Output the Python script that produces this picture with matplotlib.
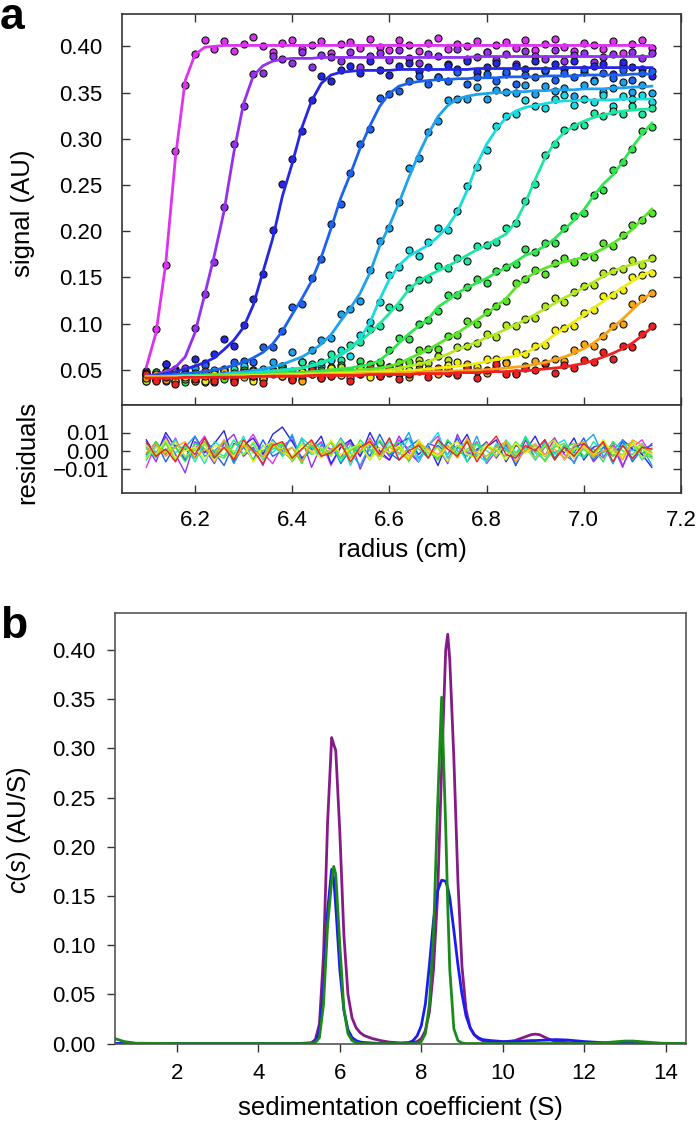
import numpy as np
import matplotlib
matplotlib.use("Agg")
import matplotlib.pyplot as plt

plt.rcParams['font.family'] = ['Liberation Sans', 'DejaVu Sans']
plt.rcParams['mathtext.fontset'] = 'custom'
plt.rcParams['mathtext.it'] = 'Liberation Sans:italic'
plt.rcParams['mathtext.rm'] = 'Liberation Sans'

# ---------------- panel a data ----------------
radius = [6.10, 6.12, 6.14, 6.16, 6.18, 6.20, 6.22, 6.24, 6.26, 6.28,
          6.30, 6.32, 6.34, 6.36, 6.38, 6.40, 6.42, 6.44, 6.46, 6.48,
          6.50, 6.52, 6.54, 6.56, 6.58, 6.60, 6.62, 6.64, 6.66, 6.68,
          6.70, 6.72, 6.74, 6.76, 6.78, 6.80, 6.82, 6.84, 6.86, 6.88,
          6.90, 6.92, 6.94, 6.96, 6.98, 7.00, 7.02, 7.04, 7.06, 7.08,
          7.10, 7.12, 7.14]

# fitted signal of each scan, in units of 0.001 AU
fit_magenta = [53, 90, 165, 280, 363, 391, 399, 400, 401, 401] + [401] * 43
fit_violet = [43, 45, 48, 53, 64, 90, 131, 174, 222, 285,
              338, 368, 379, 384, 386, 387, 387, 387, 388, 388,
              388, 388, 388, 388, 388, 388, 388, 388, 388, 388,
              388, 388, 388, 388, 389, 389, 389, 389, 389, 389,
              389, 389, 389, 389, 389, 389, 389, 389, 389, 389,
              389, 389, 389]
fit_blue = [43, 44, 46, 48, 51, 54, 58, 63, 72, 82,
            96, 120, 156, 192, 238, 273, 312, 341, 360, 369,
            372, 373, 374, 374, 374, 374, 375, 375, 375, 375,
            375, 375, 375, 375, 376, 376, 376, 376, 376, 376,
            376, 376, 376, 377, 377, 377, 377, 377, 377, 377,
            377, 377, 377]
fit_royal = [43, 43, 44, 45, 46, 47, 48, 50, 52, 55,
             58, 63, 69, 78, 92, 110, 127, 146, 172, 203,
             236, 262, 290, 314, 335, 349, 357, 360, 362, 363,
             364, 364, 365, 365, 366, 366, 366, 367, 367, 367,
             367, 368, 368, 368, 368, 369, 369, 369, 369, 369,
             370, 370, 370]
fit_azure = [43, 43, 43, 43, 44, 44, 45, 45, 46, 47,
             48, 49, 51, 53, 56, 60, 64, 70, 78, 88,
             103, 117, 133, 155, 184, 206, 231, 258, 283, 305,
             324, 336, 343, 346, 348, 349, 350, 350, 351, 351,
             352, 352, 353, 353, 353, 354, 354, 354, 355, 355,
             356, 356, 357]
fit_cyan = [43, 43, 43, 43, 44, 44, 44, 45, 45, 46,
            46, 47, 48, 49, 50, 51, 52, 54, 57, 61,
            66, 73, 84, 101, 126, 148, 163, 173, 179, 185,
            194, 205, 221, 244, 272, 294, 310, 323, 330, 334,
            336, 338, 340, 341, 341, 342, 342, 342, 342, 343,
            343, 343, 343]
fit_spring = [43, 43, 43, 43, 43, 44, 44, 44, 45, 45,
              46, 46, 47, 48, 49, 50, 52, 55, 58, 62,
              67, 74, 81, 90, 100, 111, 123, 137, 146, 152,
              157, 162, 168, 174, 180, 185, 191, 197, 210, 231,
              256, 279, 296, 307, 314, 319, 323, 326, 328, 330,
              331, 332, 332]
fit_green = [43, 43, 43, 43, 43, 43, 44, 44, 44, 44,
             45, 45, 45, 46, 46, 47, 47, 48, 49, 50,
             51, 52, 54, 56, 60, 69, 79, 89, 97, 105,
             118, 125, 133, 139, 144, 149, 155, 161, 167, 174,
             178, 184, 192, 202, 212, 223, 238, 251, 261, 275,
             291, 305, 317]
fit_lime = [43, 43, 43, 43, 43, 43, 43, 44, 44, 44,
            44, 45, 45, 45, 46, 46, 46, 47, 47, 48,
            48, 49, 50, 51, 52, 54, 57, 62, 67, 72,
            78, 84, 90, 97, 104, 111, 119, 127, 139, 149,
            155, 160, 164, 167, 169, 172, 176, 181, 187, 194,
            202, 213, 224]
fit_chartreuse = [42, 42, 42, 43, 43, 43, 43, 43, 43, 44,
                  44, 44, 44, 45, 45, 45, 45, 46, 46, 46,
                  47, 47, 48, 48, 49, 50, 52, 54, 56, 59,
                  63, 67, 72, 76, 80, 85, 89, 94, 99, 104,
                  110, 116, 122, 128, 133, 139, 145, 151, 157, 161,
                  164, 167, 169]
fit_yellow = [42, 42, 42, 42, 42, 43, 43, 43, 43, 43,
              43, 44, 44, 44, 44, 45, 45, 45, 45, 46,
              46, 46, 47, 47, 47, 48, 48, 49, 50, 51,
              52, 53, 54, 55, 57, 59, 61, 63, 65, 68,
              74, 80, 88, 95, 102, 109, 117, 124, 132, 139,
              146, 152, 157]
fit_orange = [42, 42, 42, 42, 42, 42, 42, 43, 43, 43,
              43, 43, 43, 44, 44, 44, 44, 44, 45, 45,
              45, 45, 46, 46, 46, 46, 47, 47, 47, 48,
              48, 48, 49, 49, 50, 50, 51, 52, 53, 54,
              56, 58, 61, 64, 68, 73, 79, 87, 96, 105,
              115, 125, 134]
fit_red = [41, 41, 41, 41, 42, 42, 42, 42, 42, 42,
           42, 43, 43, 43, 43, 43, 43, 44, 44, 44,
           44, 44, 44, 45, 45, 45, 45, 45, 46, 46,
           46, 46, 47, 47, 47, 48, 48, 48, 49, 49,
           50, 51, 52, 53, 55, 57, 60, 64, 68, 73,
           79, 87, 96]

# residuals (data - fit) of each scan, in units of 0.001 AU
res_magenta = [-9, 4, -2, 7, -5, 1, 8, -3, 5, -6, 2, 9, -1, -7, 3, 6, -4, 0, 5, -8,
               2, 4, -3, 7, -2, -5, 6, 1, -6, 3, 8, -4, 2, -1, 5, -7, 0, 4, -3, 6,
               -5, 2, 7, -2, -6, 3, 1, -4, 5, -8, 2, 6, -3]
res_violet = [3, -6, 8, -2, -12, 5, 1, -7, 4, 9, -3, 2, -8, 6, 0, -5, 7, -9, 3, 1,
              -4, 6, -10, 2, 5, -3, 8, -1, -6, 4, 2, -7, 9, -2, 0, 5, -4, 3, -8, 6,
              1, -3, 7, -5, 2, 4, -6, 0, 3, -9, 5, -2, 4]
res_blue = [6, -3, 10, 2, -5, 8, -1, 4, 11, -6, 3, 7, -2, 9, 13, 5, -4, 1, 8, -7,
            2, 6, -3, 10, 0, -5, 4, 7, -2, 3, -8, 5, 1, 9, -4, 2, 6, -6, 3, 0,
            8, -3, 5, -1, 7, -5, 2, 4, -7, 6, 1, -2, -9]
res_royal = [-2, 5, -6, 3, 1, -4, 7, -1, -8, 4, 2, -5, 6, -3, 0, 8, -6, 3, -2, 5,
             -7, 1, 4, -3, 9, -1, -5, 2, 6, -4, 3, -2, 7, -6, 1, 4, -3, 5, -8, 2,
             0, 6, -4, 3, -1, 7, -5, 2, -3, 5, -6, 1, 3]
res_azure = [4, -1, 6, -5, 2, 8, -3, 0, 5, -7, 3, 1, -4, 6, -2, 9, -6, 2, 4, -3,
             7, -1, -8, 3, 5, -2, 1, 10, -4, 2, -5, 6, 0, -3, 8, -6, 3, 1, -2, 7,
             -4, 5, -1, 2, -7, 4, 9, -3, 0, 6, -5, 2, -8]
res_cyan = [-5, 3, 0, 6, -4, 2, -7, 5, 1, -2, 8, -6, 3, -1, 4, -5, 7, 2, -3, 0,
            6, -8, 4, 1, -3, 5, -2, 7, -6, 3, 10, -4, 1, 5, -2, -6, 4, 2, -3, 8,
            -1, -5, 3, 6, -4, 1, -2, 5, -7, 3, 0, 4, -3]
res_spring = [2, -4, 5, -1, 3, -6, 4, 0, -3, 6, -2, 4, -5, 1, 3, -4, 6, -2, 0, 5,
              -6, 3, -1, 4, -3, 7, -5, 2, 1, -4, 5, -2, 3, -6, 4, 0, -3, 6, -1, 2,
              -5, 4, -2, 3, 0, -4, 5, -1, 2, -3, 4, -5, 1]
res_green = [-3, 5, -1, 2, -6, 4, 1, -4, 6, -2, 3, -5, 0, 4, -3, 2, -7, 5, 1, -2,
             4, -4, 6, 0, -3, 2, 5, -6, 3, -1, -4, 6, -2, 1, 4, -5, 2, 0, -3, 7,
             -1, 3, -5, 2, 4, -3, 1, -6, 5, 0, -2, 3, -4]
res_lime = [1, -3, 4, -5, 2, 0, 5, -2, -4, 3, 6, -1, -3, 2, 4, -6, 1, 3, -2, 5,
            -4, 0, 3, -5, 6, -1, 2, -3, 4, 1, -5, 3, -2, 6, -4, 2, 0, -3, 5, -1,
            3, -6, 2, 4, -2, 1, -4, 6, -3, 2, 5, -1, -4]
res_chartreuse = [-4, 2, -1, 5, -3, 1, 4, -6, 2, 0, -2, 5, -4, 3, 1, -5, 4, -1, 2, -3,
                  6, -2, 0, 4, -5, 3, 1, -4, 5, -2, 2, -6, 3, 0, -1, 4, -3, 5, -2, 1,
                  -4, 3, 6, -5, 1, 2, -3, 4, 0, -2, 5, -4, 2]
res_yellow = [3, -2, 6, -4, 0, 2, -5, 3, 1, -3, 4, -6, 2, 5, -1, -3, 3, 0, -4, 6,
              -2, 1, 4, -5, 2, -1, 3, -4, 6, 0, -3, 2, 5, -2, -4, 3, 1, -5, 4, -1,
              2, -3, 5, 0, -4, 3, -2, 6, -1, -3, 4, 1, -2]
res_orange = [-1, 4, -3, 2, 5, -4, 1, -2, 6, -5, 3, 0, -3, 4, -1, 2, -6, 5, -2, 1,
              3, -4, 0, 6, -3, 2, -1, -5, 4, 1, -2, 3, -4, 7, -1, -3, 2, 5, -6, 0,
              4, -2, 1, -4, 3, 5, -3, 0, 2, -5, 6, 3, -1]
res_red = [5, -3, 1, -6, 4, -2, 7, -4, 2, -5, 6, 0, -7, 3, 5, -4, 1, 6, -3, -1,
           4, -6, 2, 5, -2, 7, -5, 0, 3, -4, 6, 1, -3, 5, -6, 2, 8, -2, -4, 3,
           0, 6, -5, 2, -3, 4, -1, 5, -6, 3, -4, 2, 1]

fits = [fit_magenta, fit_violet, fit_blue, fit_royal, fit_azure, fit_cyan,
        fit_spring, fit_green, fit_lime, fit_chartreuse, fit_yellow,
        fit_orange, fit_red]
residuals = [res_magenta, res_violet, res_blue, res_royal, res_azure, res_cyan,
             res_spring, res_green, res_lime, res_chartreuse, res_yellow,
             res_orange, res_red]
scan_colors = ['#dd33f0', '#9430f0', '#2626e6', '#1c62f0', '#1ea2ee', '#18dce0',
               '#1ee8a0', '#30e650', '#5ae628', '#b4e820', '#f0ee10',
               '#f8a418', '#f02020']

for a in fits + residuals:
    assert len(a) == len(radius), len(a)

# ---------------- panel b data ----------------
s_values = [0.48, 0.7, 1.0, 2.0, 3.0, 4.0, 5.0,
            5.3, 5.4, 5.5, 5.6, 5.7, 5.8, 5.85, 5.9,
            6.0, 6.1, 6.2, 6.3, 6.4, 6.5, 6.6,
            6.8, 7.0, 7.2, 7.5, 7.7,
            7.8, 7.9, 8.0, 8.1, 8.2, 8.3, 8.4, 8.5, 8.6, 8.65,
            8.7, 8.8, 8.9, 9.0, 9.1, 9.2, 9.3, 9.4, 9.5,
            9.7, 10.0, 10.3, 10.5, 10.7, 10.8, 10.9, 11.1, 11.3, 11.6,
            12.0, 12.4, 12.7, 13.0, 13.2, 13.5, 13.9, 14.5]
cs_purple = [0, 0, 0, 0, 0, 0, 0,
             0.0008, 0.004, 0.02, 0.09, 0.225, 0.311, 0.304, 0.298,
             0.215, 0.11, 0.05, 0.026, 0.016, 0.011, 0.008,
             0.005, 0.003, 0.0015, 0.0005, 0.0004,
             0.001, 0.002, 0.005, 0.013, 0.032, 0.075, 0.15, 0.28, 0.40, 0.416,
             0.39, 0.29, 0.165, 0.078, 0.034, 0.016, 0.009, 0.005, 0.003,
             0.0018, 0.0015, 0.003, 0.006, 0.009, 0.0095, 0.009, 0.005, 0.002, 0.0008,
             0.0003, 0, 0, 0, 0, 0, 0, 0]
cs_blue = [0, 0, 0, 0, 0, 0, 0,
           0, 0.002, 0.012, 0.055, 0.135, 0.177, 0.168, 0.14,
           0.075, 0.034, 0.014, 0.006, 0.003, 0.0015, 0.001,
           0.0005, 0, 0, 0.0003, 0.001,
           0.003, 0.008, 0.018, 0.04, 0.08, 0.125, 0.155, 0.166, 0.165, 0.158,
           0.148, 0.115, 0.08, 0.05, 0.028, 0.016, 0.009, 0.006, 0.004,
           0.003, 0.002, 0.002, 0.0025, 0.003, 0.003, 0.0032, 0.0035, 0.004, 0.0035,
           0.002, 0.001, 0.0005, 0, 0, 0, 0, 0]
cs_green = [0.005, 0.002, 0.0003, 0, 0, 0, 0,
            0, 0.001, 0.006, 0.04, 0.12, 0.165, 0.180, 0.172,
            0.10, 0.035, 0.01, 0.003, 0.001, 0, 0,
            0, 0, 0, 0, 0,
            0, 0, 0.002, 0.01, 0.04, 0.11, 0.24, 0.352, 0.22, 0.14,
            0.075, 0.015, 0.003, 0.0005, 0, 0, 0, 0, 0,
            0, 0, 0, 0, 0, 0, 0, 0, 0, 0,
            0, 0.0005, 0.0015, 0.0025, 0.0025, 0.0015, 0.0003, 0]
for a in (cs_purple, cs_blue, cs_green):
    assert len(a) == len(s_values), len(a)

# ---------------- figure ----------------
W, H = 700, 1126
fig = plt.figure(figsize=(W / 100, H / 100), dpi=100)

def fx(px):
    return px / W

def fy(py):
    return 1 - py / H

a_left, a_right = 122, 681
ax1 = fig.add_axes([fx(a_left), fy(405), fx(a_right - a_left), (405 - 14) / H])
ax2 = fig.add_axes([fx(a_left), fy(493), fx(a_right - a_left), (493 - 405) / H])
ax3 = fig.add_axes([fx(115), fy(1044), fx(686 - 115), (1044 - 613) / H])

spine_col = '#333333'
tick_fs = 16
label_fs = 18.5

r = np.array(radius)
for fit, res, col in zip(fits, residuals, scan_colors):
    data = (np.array(fit) + np.array(res)) / 1000.0
    ax1.scatter(r, data, s=26, c=col, edgecolors='#111111', linewidths=0.8, zorder=2)
for fit, col in zip(fits, scan_colors):
    ax1.plot(r, np.array(fit) / 1000.0, color=col, lw=2.0, zorder=3)
for res, col in zip(residuals, scan_colors):
    ax2.plot(r, np.array(res) / 1000.0, color=col, lw=1.0)

for ax in (ax1, ax2):
    ax.set_xlim(6.05, 7.2)
    ax.set_xticks([6.2, 6.4, 6.6, 6.8, 7.0, 7.2])
    for sp in ax.spines.values():
        sp.set_color(spine_col)
        sp.set_linewidth(1.2)

ax1.set_ylim(0.012, 0.435)
ax1.set_yticks([0.05, 0.10, 0.15, 0.20, 0.25, 0.30, 0.35, 0.40])
ax1.set_yticklabels(['%.2f' % v for v in [0.05, 0.10, 0.15, 0.20, 0.25, 0.30, 0.35, 0.40]])
ax1.tick_params(direction='in', length=6, width=1.0, color=spine_col,
                top=True, right=True, labelbottom=False, labelsize=tick_fs, pad=14)

ax2.set_ylim(-0.023, 0.025)
ax2.set_yticks([-0.01, 0.0, 0.01])
ax2.set_yticklabels(['\u22120.01', '0.00', '0.01'])
ax2.set_xticklabels(['6.2', '6.4', '6.6', '6.8', '7.0', '7.2'])
ax2.tick_params(direction='in', length=6, width=1.0, color=spine_col,
                right=True, labelsize=tick_fs)
ax2.tick_params(axis='y', pad=9)
ax2.tick_params(axis='x', pad=12)

ax3.plot(s_values, cs_purple, color='#861a86', lw=2.0)
ax3.plot(s_values, cs_blue, color='#1c1cf2', lw=2.0)
ax3.plot(s_values, cs_green, color='#1a8a1a', lw=2.0)
ax3.set_xlim(0.48, 14.5)
ax3.set_ylim(-0.0005, 0.4376)
ax3.set_xticks([2, 4, 6, 8, 10, 12, 14])
ax3.set_yticks([0.0, 0.05, 0.10, 0.15, 0.20, 0.25, 0.30, 0.35, 0.40])
ax3.set_yticklabels(['%.2f' % v for v in [0.0, 0.05, 0.10, 0.15, 0.20, 0.25, 0.30, 0.35, 0.40]])
ax3.tick_params(direction='out', length=6, width=1.0, color=spine_col, labelsize=tick_fs)
ax3.tick_params(axis='y', pad=8)
ax3.tick_params(axis='x', pad=8)
for sp in ax3.spines.values():
    sp.set_color('#555555')
    sp.set_linewidth(1.2)

fig.text(fx(23), fy(213), 'signal (AU)', rotation=90, ha='center', va='center', fontsize=label_fs)
fig.text(fx(27), fy(452), 'residuals', rotation=90, ha='center', va='center', fontsize=label_fs)
fig.text(fx(402), fy(550), 'radius (cm)', ha='center', va='center', fontsize=label_fs)
fig.text(fx(19), fy(830), r'$\it{c}$($\it{s}$) (AU/S)', rotation=90, ha='center', va='center', fontsize=label_fs)
fig.text(fx(400), fy(1108), 'sedimentation coefficient (S)', ha='center', va='center', fontsize=label_fs)
fig.text(fx(0), fy(29), 'a', ha='left', va='baseline', fontsize=32, fontweight='bold')
fig.text(fx(0), fy(638), 'b', ha='left', va='baseline', fontsize=32, fontweight='bold')

fig.savefig('out.png', dpi=100)
